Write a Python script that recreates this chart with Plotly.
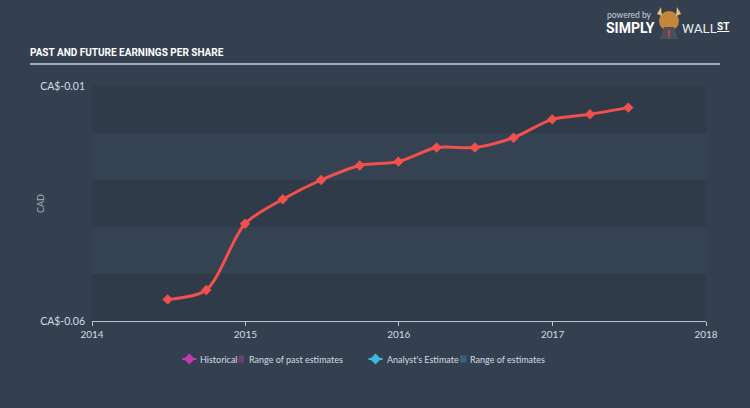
import plotly.graph_objects as go

# ---- data ----
dates = ["2014-06-30", "2014-09-30", "2014-12-31", "2015-03-31", "2015-06-30",
         "2015-09-30", "2015-12-31", "2016-03-31", "2016-06-30", "2016-09-30",
         "2016-12-31", "2017-03-31", "2017-06-30"]
eps = [-0.0554, -0.0534, -0.0393, -0.0341, -0.0300, -0.0269, -0.0261,
       -0.0231, -0.0231, -0.0210, -0.0171, -0.0160, -0.0146]
x_ticks = ["2014-01-01", "2015-01-01", "2016-01-01", "2017-01-01", "2018-01-01"]
x_tick_labels = ["2014", "2015", "2016", "2017", "2018"]
y_ticks = [-0.06, -0.01]
y_tick_labels = ["CA$-0.06", "CA$-0.01"]
band_edges = [(-0.02, -0.01), (-0.04, -0.03), (-0.06, -0.05)]

W, H = 750, 408
L, R, T, B = 92, 44, 86, 87
PW, PH = W - L - R, H - T - B


def px(x):
    return (x - L) / PW


def py(y):
    return 1 - (y - T) / PH


BG = "#344050"
BAND = "#303b4a"
LINE = "#f2504d"
TXT = "#d5dbe2"

fig = go.Figure()
fig.add_trace(go.Scatter(
    x=dates, y=eps, mode="lines+markers",
    line=dict(color=LINE, width=3, shape="spline", smoothing=0.8),
    marker=dict(symbol="diamond", size=8, color=LINE),
    showlegend=False, hoverinfo="x+y"))

shapes = []
for lo, hi in band_edges:
    shapes.append(dict(type="rect", xref="paper", yref="y", x0=0, x1=1, y0=lo, y1=hi,
                       fillcolor=BAND, line=dict(width=0), layer="below"))
# title underline
shapes.append(dict(type="line", xref="paper", yref="paper", x0=px(30), x1=px(720),
                   y0=py(64), y1=py(64), line=dict(color="#c5cfd9", width=1.5)))


def legend_diamond(cx, cy, color):
    hw, hh = 5.5, 5.5
    path = (f"M {px(cx - hw)} {py(cy)} L {px(cx)} {py(cy - hh)} "
            f"L {px(cx + hw)} {py(cy)} L {px(cx)} {py(cy + hh)} Z")
    shapes.append(dict(type="line", xref="paper", yref="paper", x0=px(cx - 7), x1=px(cx + 7),
                       y0=py(cy), y1=py(cy), line=dict(color=color, width=2)))
    shapes.append(dict(type="path", xref="paper", yref="paper", path=path,
                       fillcolor=color, line=dict(width=0)))


def legend_square(x0, x1, cy, color):
    shapes.append(dict(type="rect", xref="paper", yref="paper", x0=px(x0), x1=px(x1),
                       y0=py(cy + 3.5), y1=py(cy - 3.5), fillcolor=color, opacity=0.45,
                       line=dict(width=0)))


LY = 359
legend_diamond(189.3, LY, "#c43aad")
legend_square(238.5, 244, LY, "#b0409f")
legend_diamond(375.5, LY, "#3cb9e0")
legend_square(460, 466.5, LY, "#3a8fb0")

# logo icon (approximate bull head)
shapes.append(dict(type="circle", xref="paper", yref="paper", x0=px(659), x1=px(679),
                   y0=py(31), y1=py(11), fillcolor="#c3863a", line=dict(width=0)))
shapes.append(dict(type="path", xref="paper", yref="paper",
                   path=f"M {px(660)} {py(39)} L {px(664)} {py(27)} L {px(674)} {py(27)} L {px(678)} {py(39)} Z",
                   fillcolor="#4b4f57", line=dict(width=0)))
shapes.append(dict(type="path", xref="paper", yref="paper",
                   path=f"M {px(668)} {py(30)} L {px(670)} {py(30)} L {px(669.5)} {py(38)} L {px(668.5)} {py(38)} Z",
                   fillcolor="#d0453a", line=dict(width=0)))
shapes.append(dict(type="path", xref="paper", yref="paper",
                   path=f"M {px(657)} {py(14)} L {px(661)} {py(7)} L {px(662)} {py(16)} Z",
                   fillcolor="#e3c27a", line=dict(width=0)))
shapes.append(dict(type="path", xref="paper", yref="paper",
                   path=f"M {px(681)} {py(14)} L {px(677)} {py(7)} L {px(676)} {py(16)} Z",
                   fillcolor="#e3c27a", line=dict(width=0)))

FONT = "Lato, 'Open Sans', sans-serif"
ann = []


def text(x, y, s, size, color=TXT, xanchor="left", family=FONT, **kw):
    ann.append(dict(xref="paper", yref="paper", x=px(x), y=py(y), text=s, showarrow=False,
                    xanchor=xanchor, yanchor="middle", font=dict(size=size, color=color, family=family), **kw))


text(28, 52, "<b>PAST AND FUTURE EARNINGS PER SHARE</b>", 10, color="#ffffff",
     family="Roboto, sans-serif")
text(198, LY, "Historical", 9)
text(246.5, LY, "Range of past estimates", 9)
text(384.5, LY, "Analyst's Estimate", 9)
text(468, LY, "Range of estimates", 9)
text(40, 204, "CAD", 9, color="#aab3bd", xanchor="center", textangle=-90)
# logo text
text(605, 15, "powered by", 8.5, color="#c9d0d8")
text(604, 27.5, "<b>SIMPLY</b>", 14, color="#ffffff", family="Roboto, sans-serif")
text(680, 27.5, "WALL", 13.5, color="#e8ecf0", family="Roboto, sans-serif")
text(715, 26, "<b><u>ST</u></b>", 10, color="#ffffff", family="Roboto, sans-serif")

fig.update_layout(
    width=W, height=H, margin=dict(l=L, r=R, t=T, b=B),
    paper_bgcolor=BG, plot_bgcolor="#354252",
    shapes=shapes, annotations=ann, showlegend=False,
    xaxis=dict(type="date", range=["2014-01-01", "2018-01-01"], tickvals=x_ticks,
               ticktext=x_tick_labels, showgrid=False, zeroline=False,
               showline=True, linecolor="#b9c3cd", linewidth=1,
               ticks="outside", ticklen=4, tickcolor="#b9c3cd",
               tickfont=dict(size=10, color=TXT, family=FONT)),
    yaxis=dict(range=[-0.06, -0.01], tickvals=y_ticks, ticktext=y_tick_labels,
               showgrid=False, zeroline=False, showline=False, ticks="",
               ticklabelstandoff=6,
               tickfont=dict(size=10.5, color=TXT, family=FONT)),
)

fig.write_html("out.html")
